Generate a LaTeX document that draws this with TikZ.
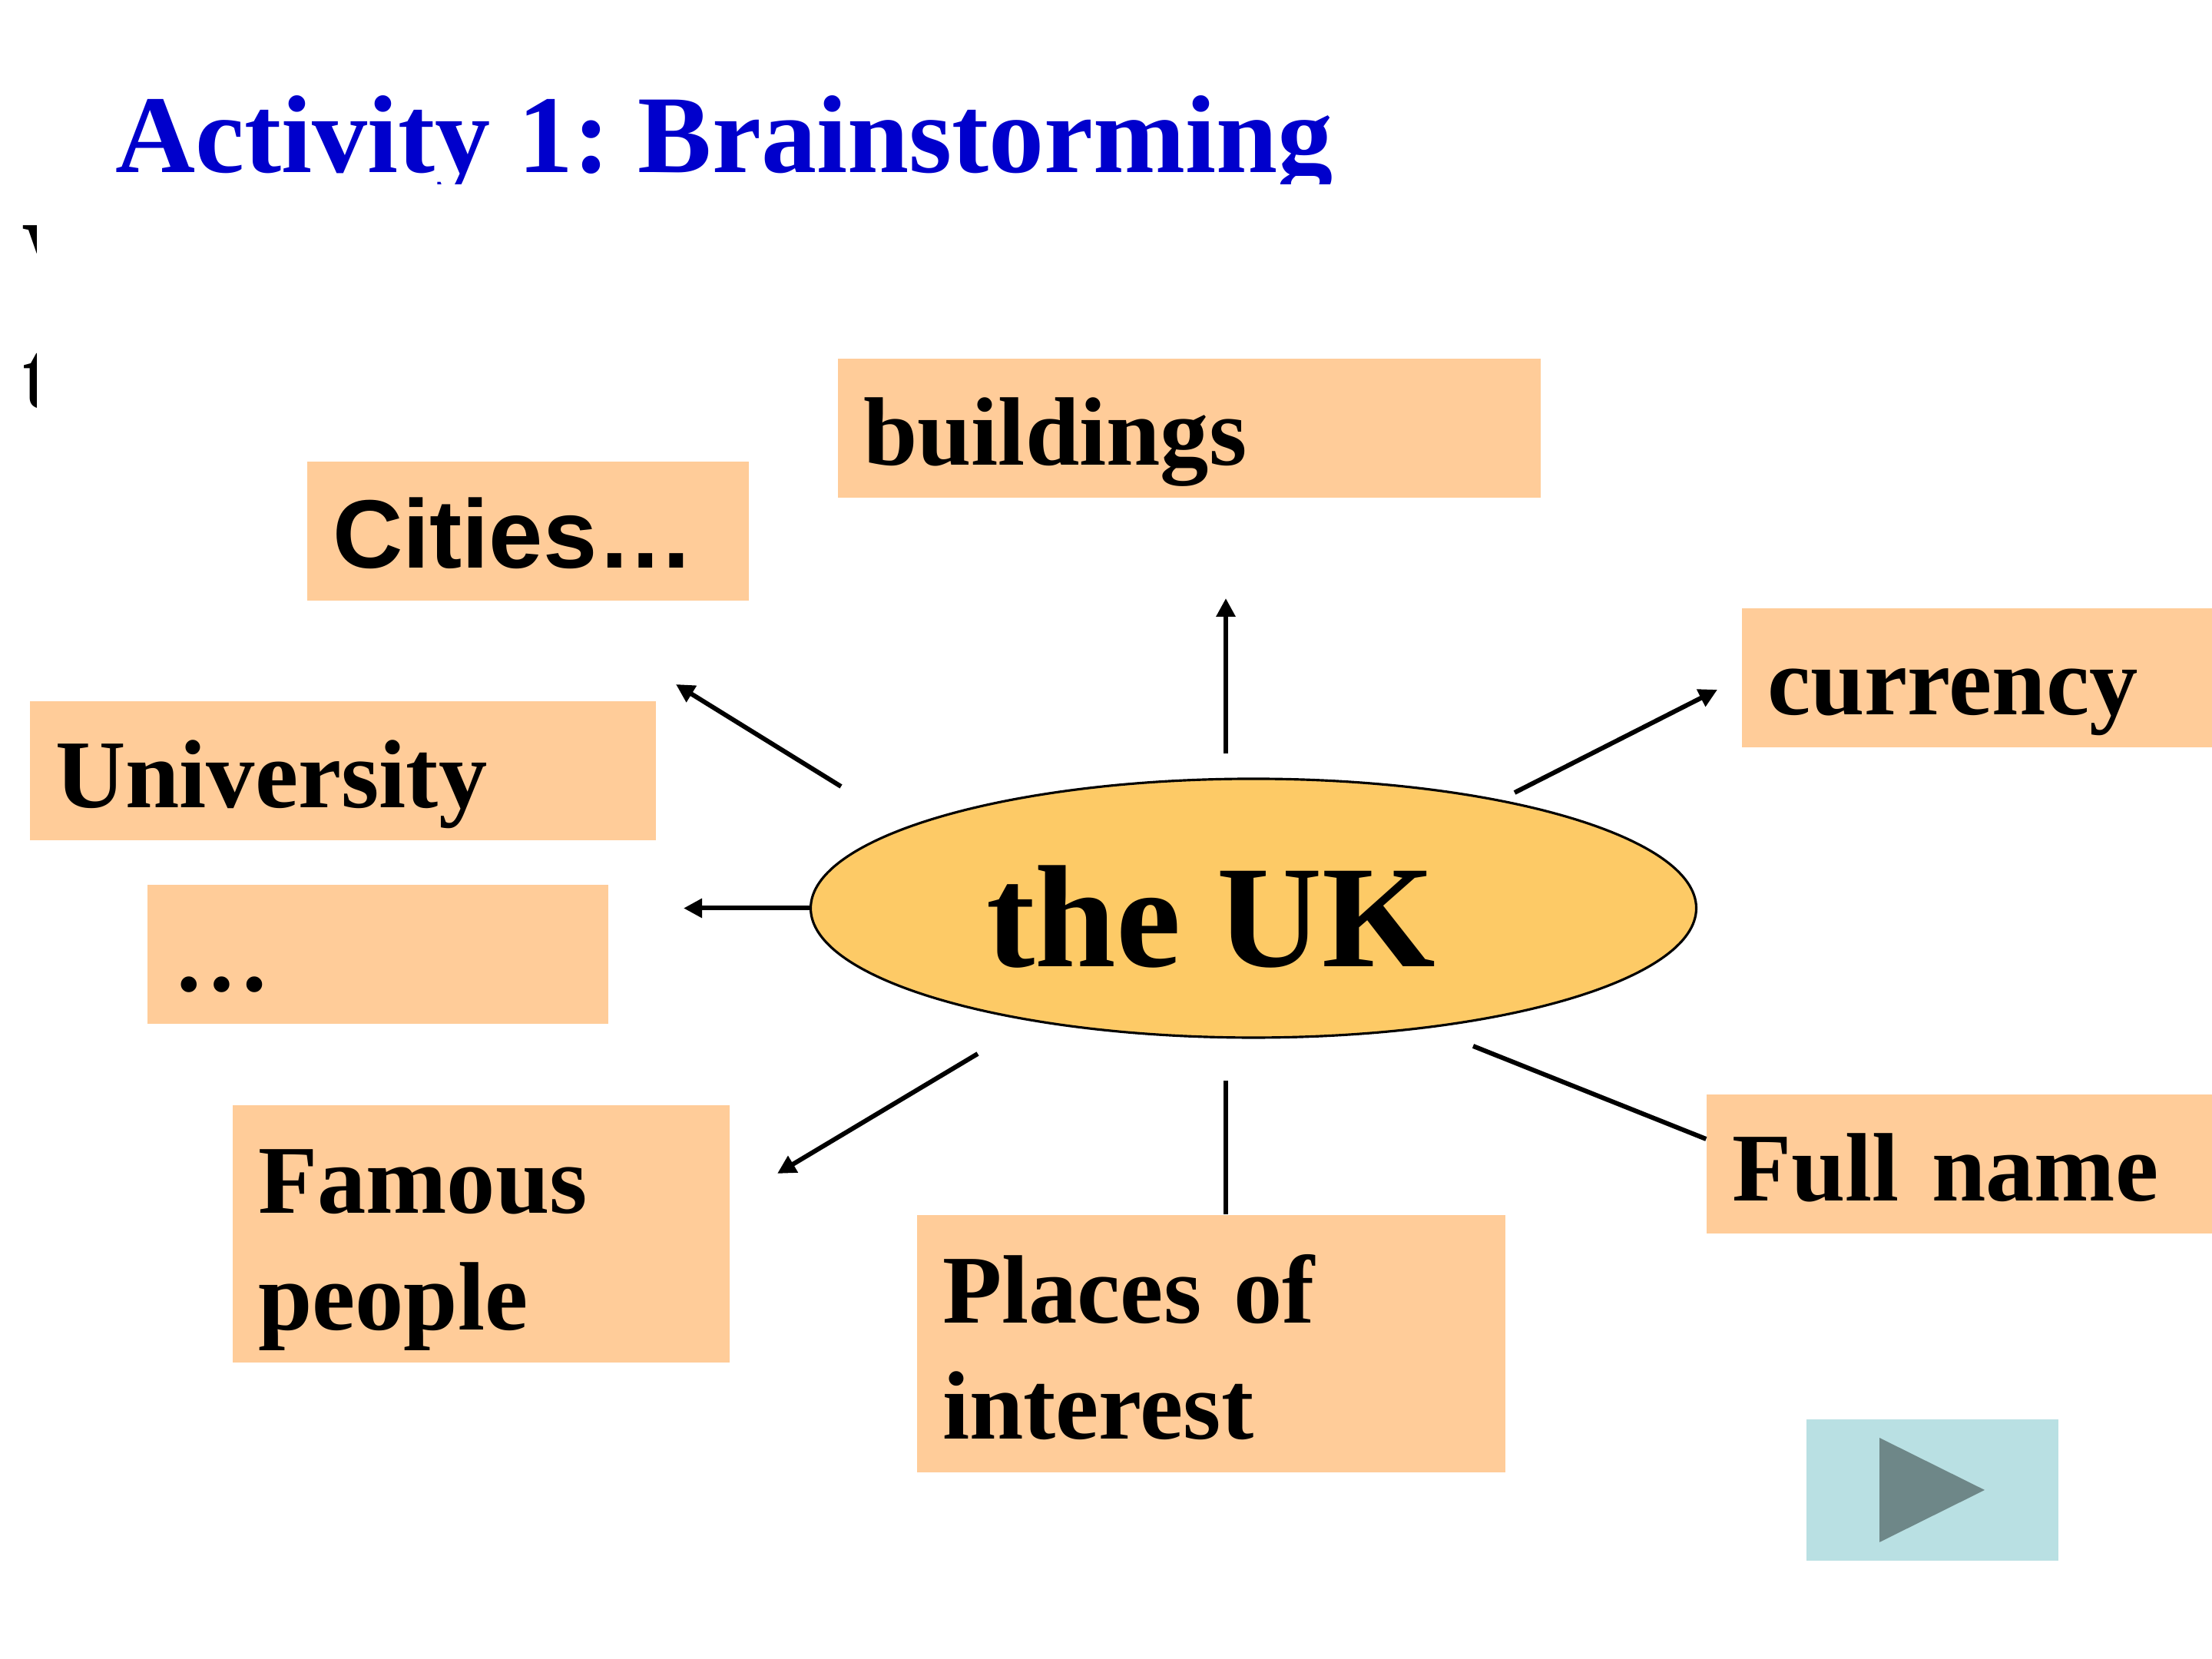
\documentclass[tikz,border=0pt]{standalone}
\usepackage{fontspec}
\setmainfont{Liberation Serif}
\setsansfont{Liberation Sans}
\usetikzlibrary{positioning,arrows.meta,shapes.geometric}
\definecolor{peach}{HTML}{FFCC99}
\definecolor{hubfill}{HTML}{FDCA66}
\definecolor{titleblue}{HTML}{0000CC}
\definecolor{playbg}{HTML}{B9E0E3}
\definecolor{playfg}{HTML}{6E8788}
\frenchspacing

\begin{document}
\begin{tikzpicture}[
  box/.style={fill=peach, inner xsep=3.3mm, inner ysep=0pt, text width=#1-6.6mm, align=left,
    minimum height=18.1mm, text height=12mm, text depth=2.4mm, font=\fontsize{36}{43.1}\selectfont\bfseries},
  tall/.style={minimum height=33.5mm, text depth=17.4mm},
  hub/.style={ellipse, draw, line width=0.9pt, fill=hubfill, minimum width=115.3mm, minimum height=33.7mm, inner sep=0pt},
  hubtext/.style={font=\fontsize{54}{60}\selectfont\bfseries, inner sep=0pt},
  title/.style={font=\fontsize{41}{48}\selectfont\bfseries, text=titleblue, inner sep=0pt},
  frag/.style={font=\fontsize{36}{43.1}\selectfont\bfseries, inner sep=0pt},
  playbox/.style={fill=playbg, minimum width=32.8mm, minimum height=18.4mm, inner sep=0pt},
  arr/.style={-{Triangle[length=2.4mm, width=2.4mm]}, line width=1.7pt},
  link/.style={line width=1.7pt}]
\useasboundingbox (0,0) rectangle (28.8,21.6);
% title, cut off just under the baseline
\begin{scope}
  \clip (0,19.2) rectangle (28.8,21.6);
  \node[title, anchor=base west] (title) at (1.50,19.35) {Activity 1: Brainstorming};
\end{scope}
% pieces of hidden text at the left edge
\begin{scope}
  \clip (0,18.30) rectangle (0.48,18.75) (0,16.20) rectangle (0.48,17.10);
  \node[frag, anchor=base west] (fragw) at (0.28,17.83) {W};
  \node[frag, anchor=base west] (fragt) at (0.29,16.28) {t};
\end{scope}
% centre
\node[hub] (uk) at (16.32,9.775) {};
\node[hubtext, anchor=base] (uktext) at ([xshift=-5.5mm, yshift=-7.6mm]uk.center) {the UK};
% topics
\node[box=91.5mm] (buildings) at (15.485,16.02) {buildings};
\node[box=57.5mm, font=\fontsize{36}{43.1}\selectfont\sffamily\bfseries] (cities) at (6.875,14.685) {Cities…};
\node[box=61.2mm] (currency) at (25.74,12.775) {currency};
\node[box=81.5mm] (university) at (4.465,11.56) {University};
\node[box=60mm] (dots) at (4.92,9.175) {…};
\node[box=64.7mm, tall] (famous) at (6.265,5.53) {Famous\\people};
\node[box=76.6mm, tall] (places) at (15.77,4.105) {Places of\\interest};
\node[box=65.8mm] (fullname) at (25.51,6.44) {Full name};
% next button
\node[playbox] (next) at (25.16,2.20) {};
\fill[playfg] ([xshift=-6.9mm, yshift=6.8mm]next.center) -- ([xshift=-6.9mm, yshift=-6.8mm]next.center)
  -- ([xshift=6.8mm]next.center) -- cycle;
% connectors
\coordinate (upfrom) at (15.96,11.79);
\coordinate (upto) at (15.96,13.81);
\coordinate (cityfrom) at (10.95,11.36);
\coordinate (cityto) at (8.80,12.69);
\coordinate (dotsto) at (8.90,9.775);
\coordinate (curfrom) at (19.72,11.28);
\coordinate (curto) at (22.36,12.62);
\coordinate (famfrom) at (12.73,7.88);
\coordinate (famto) at (10.12,6.32);
\coordinate (placefrom) at (15.96,7.53);
\coordinate (namefrom) at (19.18,7.98);
\draw[arr] (upfrom) -- (upto);
\draw[arr] (cityfrom) -- (cityto);
\draw[arr] (uk.west) -- (dotsto);
\draw[arr] (curfrom) -- (curto);
\draw[arr] (famfrom) -- (famto);
\draw[link] (placefrom) -- (placefrom |- places.north);
\draw[link] (namefrom) -- ([yshift=3.3mm]fullname.west);
\end{tikzpicture}
\end{document}
